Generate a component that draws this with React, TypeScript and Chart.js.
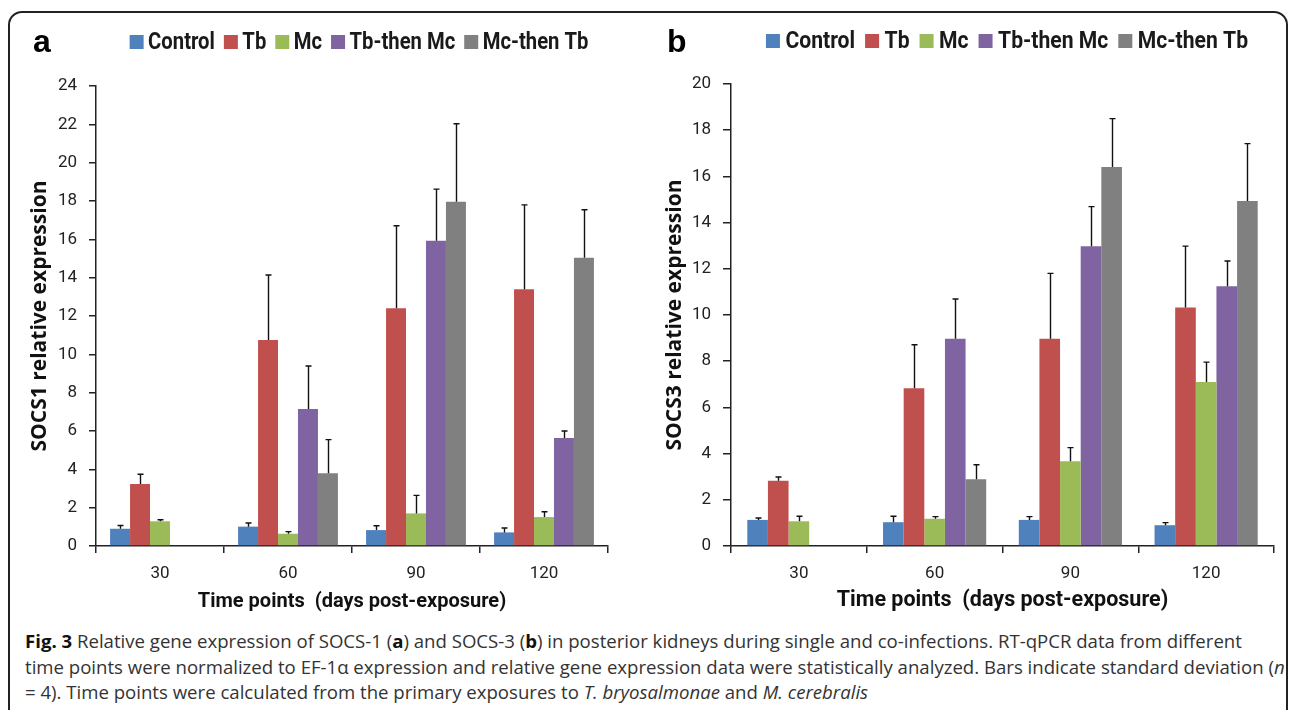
import React, { useEffect, useRef } from "react";
import { Chart, registerables } from "chart.js";

Chart.register(...registerables);

// ---------- data ----------
const timePoints = ["30", "60", "90", "120"];
const seriesNames = ["Control", "Tb", "Mc", "Tb-then Mc", "Mc-then Tb"];
const seriesColors = ["#4F81BD", "#C0504D", "#9BBB59", "#8064A2", "#808080"];

// SOCS1 (panel a) means
const socs1Control = [0.9, 1.01, 0.83, 0.71];
const socs1Tb = [3.23, 10.75, 12.4, 13.39];
const socs1Mc = [1.29, 0.64, 1.7, 1.51];
const socs1TbMc = [null, 7.15, 15.93, 5.63];
const socs1McTb = [null, 3.79, 17.96, 15.04];
// SOCS1 standard deviations
const socs1ControlSd = [0.17, 0.19, 0.23, 0.23];
const socs1TbSd = [0.51, 3.39, 4.31, 4.41];
const socs1McSd = [0.08, 0.11, 0.94, 0.28];
const socs1TbMcSd = [null, 2.24, 2.69, 0.37];
const socs1McTbSd = [null, 1.76, 4.07, 2.5];

// SOCS3 (panel b) means
const socs3Control = [1.13, 1.03, 1.13, 0.9];
const socs3Tb = [2.83, 6.83, 8.97, 10.32];
const socs3Mc = [1.07, 1.18, 3.67, 7.1];
const socs3TbMc = [null, 8.97, 12.98, 11.24];
const socs3McTb = [null, 2.89, 16.41, 14.93];
// SOCS3 standard deviations
const socs3ControlSd = [0.08, 0.26, 0.14, 0.11];
const socs3TbSd = [0.16, 1.88, 2.83, 2.66];
const socs3McSd = [0.22, 0.09, 0.59, 0.86];
const socs3TbMcSd = [null, 1.72, 1.71, 1.1];
const socs3McTbSd = [null, 0.63, 2.09, 2.49];

const socs1YMax = 24;
const socs3YMax = 20;
const yStep = 2;

const NARROW = "Roboto, 'Liberation Sans', sans-serif";
const AXIS = "#222";

// ---------- plugins ----------
const errorBarPlugin = {
  id: "errorBars",
  afterDatasetsDraw(chart: any) {
    const ctx = chart.ctx;
    const yScale = chart.scales.y;
    ctx.save();
    ctx.strokeStyle = "#111";
    ctx.lineWidth = 1.4;
    chart.data.datasets.forEach((ds: any, i: number) => {
      const meta = chart.getDatasetMeta(i);
      meta.data.forEach((el: any, j: number) => {
        const v = ds.data[j];
        const sd = ds.errors ? ds.errors[j] : null;
        if (v == null || sd == null) return;
        const yTop = yScale.getPixelForValue(v + sd);
        const x = Math.round(el.x) + 0.5;
        ctx.beginPath();
        ctx.moveTo(x, el.y);
        ctx.lineTo(x, yTop);
        ctx.moveTo(x - 3, yTop);
        ctx.lineTo(x + 3, yTop);
        ctx.stroke();
      });
    });
    ctx.restore();
  },
};

const legendPlugin = {
  id: "customLegend",
  afterDraw(chart: any, _args: any, opts: any) {
    const ctx = chart.ctx;
    ctx.save();
    // panel letter
    ctx.font = opts.letterFont;
    ctx.fillStyle = "#000";
    ctx.textBaseline = "alphabetic";
    ctx.textAlign = "left";
    ctx.fillText(opts.letter, opts.letterX, opts.letterY);
    // legend
    ctx.font = opts.font;
    const sx = opts.scaleX;
    const items = chart.data.datasets.map((ds: any) => ({
      label: ds.label,
      color: ds.backgroundColor,
      w: ctx.measureText(ds.label).width * sx,
    }));
    let total = 0;
    items.forEach((it: any, k: number) => {
      total += opts.box + opts.gapBoxText + it.w;
      if (k < items.length - 1) total += opts.gapItems;
    });
    let x = opts.centerX - total / 2;
    items.forEach((it: any) => {
      ctx.fillStyle = it.color;
      ctx.fillRect(x, opts.baseline - opts.box, opts.box, opts.box);
      x += opts.box + opts.gapBoxText;
      ctx.fillStyle = "#1a1a1a";
      ctx.save();
      ctx.translate(x, opts.baseline);
      ctx.scale(sx, 1);
      ctx.fillText(it.label, 0, 0);
      ctx.restore();
      x += it.w + opts.gapItems;
    });
    ctx.restore();
  },
};

// ---------- chart factory ----------
function makeConfig(p: any) {
  const datasets = p.values.map((vals: any[], i: number) => ({
    label: seriesNames[i],
    data: vals,
    errors: p.errors[i],
    backgroundColor: seriesColors[i],
    borderWidth: 0,
    barPercentage: 1,
    categoryPercentage: p.catPct,
  }));
  return {
    type: "bar",
    data: { labels: timePoints, datasets },
    plugins: [errorBarPlugin, legendPlugin],
    options: {
      animation: false,
      responsive: false,
      devicePixelRatio: 1,
      layout: { padding: { top: p.padTop, right: p.padRight, left: 0, bottom: 0 } },
      plugins: {
        legend: { display: false },
        tooltip: { enabled: false },
        customLegend: p.legend,
      },
      scales: {
        x: {
          type: "category",
          offset: true,
          grid: {
            display: true,
            drawOnChartArea: false,
            drawTicks: true,
            tickLength: 7,
            color: AXIS,
            lineWidth: 1.5,
            offset: true,
          },
          border: { display: true, color: AXIS, width: 1.5 },
          ticks: { font: { family: NARROW, size: p.tickSize }, color: AXIS, padding: 11 },
          title: {
            display: true,
            text: "Time points  (days post-exposure)",
            font: { family: NARROW, size: p.xTitleSize, weight: "bold" },
            color: "#111",
            padding: { top: 0, bottom: 0 },
          },
          afterFit: (s: any) => {
            s.height = p.xAxisHeight;
          },
        },
        y: {
          min: 0,
          max: p.yMax,
          ticks: {
            stepSize: yStep,
            font: { family: NARROW, size: p.tickSize },
            color: AXIS,
            padding: p.yTickPad,
          },
          grid: {
            drawOnChartArea: false,
            drawTicks: true,
            tickLength: p.yTickLen,
            color: AXIS,
            lineWidth: 1.5,
          },
          border: { display: true, color: AXIS, width: 1.5 },
          title: {
            display: true,
            text: p.yTitle,
            font: { family: "'Open Sans', 'DejaVu Sans', sans-serif", size: 21, weight: "bold" },
            color: "#111",
            padding: { top: p.yTitlePad, bottom: 0 },
          },
          afterFit: (s: any) => {
            s.width = p.yAxisWidth;
          },
        },
      },
    },
  };
}

function ChartPanel({ config, width, height, left, top }: any) {
  const ref = useRef<HTMLCanvasElement | null>(null);
  useEffect(() => {
    if (!ref.current) return;
    const chart = new Chart(ref.current, config);
    return () => chart.destroy();
  }, [config]);
  return (
    <canvas
      ref={ref}
      width={width}
      height={height}
      style={{ position: "absolute", left, top, width, height }}
    />
  );
}

const configA = makeConfig({
  values: [socs1Control, socs1Tb, socs1Mc, socs1TbMc, socs1McTb],
  errors: [socs1ControlSd, socs1TbSd, socs1McSd, socs1TbMcSd, socs1McTbSd],
  yMax: socs1YMax,
  yTitle: "SOCS1 relative expression",
  catPct: 0.78,
  padTop: 72,
  padRight: 32,
  xAxisHeight: 68,
  yAxisWidth: 86,
  yTickPad: 12,
  yTickLen: 7,
  yTitlePad: 17,
  tickSize: 17,
  xTitleSize: 20,
  legend: {
    letter: "a",
    letterFont: "bold 32px 'Liberation Sans', Arial, sans-serif",
    letterX: 23,
    letterY: 38,
    font: `bold 23px ${NARROW}`,
    scaleX: 0.88,
    box: 14,
    gapBoxText: 4.5,
    gapItems: 9,
    centerX: 349,
    baseline: 35,
  },
});

const configB = makeConfig({
  values: [socs3Control, socs3Tb, socs3Mc, socs3TbMc, socs3McTb],
  errors: [socs3ControlSd, socs3TbSd, socs3McSd, socs3TbMcSd, socs3McTbSd],
  yMax: socs3YMax,
  yTitle: "SOCS3 relative expression",
  catPct: 0.76,
  padTop: 70,
  padRight: 11,
  xAxisHeight: 68,
  yAxisWidth: 86,
  yTickPad: 12,
  yTickLen: 8,
  yTitlePad: 17,
  tickSize: 17,
  xTitleSize: 21.5,
  legend: {
    letter: "b",
    letterFont: "bold 32px 'Liberation Sans', Arial, sans-serif",
    letterX: 22,
    letterY: 38,
    font: `bold 24px ${NARROW}`,
    scaleX: 0.88,
    box: 14,
    gapBoxText: 5.5,
    gapItems: 10,
    centerX: 362,
    baseline: 34,
  },
});

export default function App() {
  return (
    <div style={{ position: "relative", width: 1290, height: 710, overflow: "hidden", background: "#fff" }}>
      <style>{`html,body{margin:0;padding:0;overflow:hidden;background:#fff}`}</style>
      <div
        style={{
          position: "absolute",
          left: 8,
          top: 11,
          width: 1280,
          height: 760,
          border: "2px solid #222",
          borderRadius: 14,
          boxSizing: "border-box",
        }}
      />
      <ChartPanel config={configA} width={630} height={600} left={10} top={14} />
      <ChartPanel config={configB} width={640} height={600} left={645} top={14} />
      <div
        style={{
          position: "absolute",
          left: 25,
          top: 628,
          width: 1262,
          fontFamily: "'Open Sans', 'Noto Sans', sans-serif",
          fontSize: 18.6,
          lineHeight: "25.5px",
          color: "#333",
          whiteSpace: "nowrap",
        }}
      >
        <b style={{ color: "#111" }}>Fig. 3</b> Relative gene expression of SOCS-1 (<b style={{ color: "#111" }}>a</b>) and
        SOCS-3 (<b style={{ color: "#111" }}>b</b>) in posterior kidneys during single and co-infections. RT-qPCR data
        from different
        <br />
        time points were normalized to EF-1α expression and relative gene expression data were statistically analyzed.
        Bars indicate standard deviation (<i>n</i>
        <br />= 4). Time points were calculated from the primary exposures to <i>T. bryosalmonae</i> and{" "}
        <i>M. cerebralis</i>
      </div>
    </div>
  );
}
